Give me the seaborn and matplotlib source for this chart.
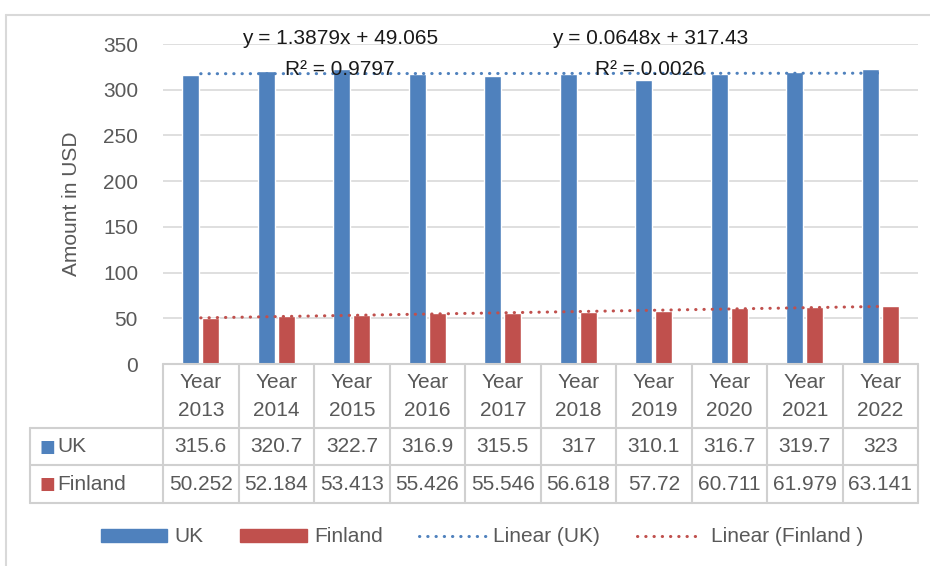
import numpy as np
import pandas as pd
import seaborn as sns
import matplotlib.pyplot as plt
from matplotlib.patches import Patch
from matplotlib.lines import Line2D

# data
years = ["2013", "2014", "2015", "2016", "2017", "2018", "2019", "2020", "2021", "2022"]
uk = [315.6, 320.7, 322.7, 316.9, 315.5, 317, 310.1, 316.7, 319.7, 323]
finland = [50.252, 52.184, 53.413, 55.426, 55.546, 56.618, 57.72, 60.711, 61.979, 63.141]
uk_labels = ["315.6", "320.7", "322.7", "316.9", "315.5", "317", "310.1", "316.7", "319.7", "323"]
fin_labels = ["50.252", "52.184", "53.413", "55.426", "55.546", "56.618", "57.72", "60.711", "61.979", "63.141"]
eq_fin = "y = 1.3879x + 49.065\nR² = 0.9797"
eq_uk = "y = 0.0648x + 317.43\nR² = 0.0026"

blue = "#4F81BD"
red = "#C0504D"
grey_txt = "#595959"
grid_c = "#D9D9D9"

cats = ["Year\n" + y for y in years]
df = pd.DataFrame({
    "year": cats * 2,
    "amount": uk + finland,
    "country": ["UK"] * len(uk) + ["Finland"] * len(finland),
})

sns.set_style("white")
plt.rcParams["font.family"] = ["Liberation Sans", "DejaVu Sans"]
fs = 15

fig = plt.figure(figsize=(9.3, 5.66), dpi=100)
ax = fig.add_axes([163 / 930, 202 / 566, 755 / 930, 320 / 566])

sns.barplot(data=df, x="year", y="amount", hue="country", order=cats,
            hue_order=["UK", "Finland"], palette=[blue, red], saturation=1,
            width=0.53, gap=0.17, ax=ax, legend=False, zorder=2)

# linear trendlines (x = 1..10 like Excel)
xs = np.arange(1, len(years) + 1)
pos = np.arange(len(years))
dots = (0, (0.1, 2.6))
for vals, col in [(uk, blue), (finland, red)]:
    k, b = np.polyfit(xs, vals, 1)
    ax.plot(pos, k * xs + b, color=col, lw=2.2, linestyle=dots,
            dash_capstyle="round", zorder=3)

ax.set_xlim(-0.5, len(years) - 0.5)
ax.set_ylim(0, 350)
ax.set_yticks(np.arange(0, 351, 50))
ax.yaxis.grid(True, color=grid_c, lw=1.2, zorder=0)
ax.set_axisbelow(True)
for s in ax.spines.values():
    s.set_visible(False)
ax.tick_params(axis="y", length=0, labelsize=fs, labelcolor=grey_txt, pad=18)
ax.set_xticks([])
ax.set_xlabel("")
ax.set_ylabel("Amount in USD", fontsize=fs, color=grey_txt, labelpad=16)

# trendline equations
for xc, txt in [(1.84, eq_fin), (5.95, eq_uk)]:
    ax.text(xc, 366, txt, ha="center", va="top", fontsize=fs, color="#1a1a1a",
            linespacing=1.75, clip_on=False, zorder=4)

# data table under the axis
tr = ax.get_xaxis_transform()
px = 1 / 320  # one pixel in axes-y units
row_y = [0, -64 * px, -101 * px, -139 * px]
lc = "#D0D0D0"
left_x = -0.5 - 133 / 75.5
for y in row_y:
    x0 = -0.5 if y == 0 else left_x
    ax.plot([x0, len(years) - 0.5], [y, y], transform=tr, color=lc, lw=1.5, clip_on=False)
for i in range(len(years) + 1):
    ax.plot([i - 0.5, i - 0.5], [0, row_y[-1]], transform=tr, color=lc, lw=1.5, clip_on=False)
ax.plot([left_x, left_x], [row_y[1], row_y[-1]], transform=tr, color=lc, lw=1.5, clip_on=False)

for i, c in enumerate(cats):
    ax.text(i, (row_y[0] + row_y[1]) / 2, c, transform=tr, ha="center", va="center",
            fontsize=fs, color=grey_txt, linespacing=1.6, clip_on=False)
    ax.text(i, (row_y[1] + row_y[2]) / 2, uk_labels[i], transform=tr, ha="center",
            va="center", fontsize=fs, color=grey_txt, clip_on=False)
    ax.text(i, (row_y[2] + row_y[3]) / 2, fin_labels[i], transform=tr, ha="center",
            va="center", fontsize=fs, color=grey_txt, clip_on=False)

for (name, col), (ya, yb) in zip([("UK", blue), ("Finland", red)],
                                 [(row_y[1], row_y[2]), (row_y[2], row_y[3])]):
    ym = (ya + yb) / 2
    ax.text(left_x + 0.12, ym, "■", transform=tr, ha="left", va="center",
            fontsize=12, color=col, family="DejaVu Sans", clip_on=False)
    ax.text(left_x + 0.36, ym, name, transform=tr, ha="left", va="center",
            fontsize=fs, color=grey_txt, clip_on=False)

# legend
handles = [
    Patch(facecolor=blue, edgecolor=blue),
    Patch(facecolor=red, edgecolor=red),
    Line2D([], [], color=blue, lw=2.2, linestyle=dots, dash_capstyle="round"),
    Line2D([], [], color=red, lw=2.2, linestyle=dots, dash_capstyle="round"),
]
fig.legend(handles, ["UK", "Finland", "Linear (UK)", "Linear (Finland )"], ncol=4,
           loc="center", bbox_to_anchor=(0.518, 1 - 537 / 566), frameon=False,
           fontsize=fs, labelcolor=grey_txt, handlelength=3.2, handleheight=0.6,
           handletextpad=0.35, columnspacing=1.75)

# chart border
fig.add_artist(Line2D([6 / 930, 1], [1 - 15 / 566, 1 - 15 / 566], color=grid_c, lw=1.5))
fig.add_artist(Line2D([6 / 930, 6 / 930], [0, 1 - 15 / 566], color=grid_c, lw=1.5))

fig.savefig("out.png", dpi=100)
